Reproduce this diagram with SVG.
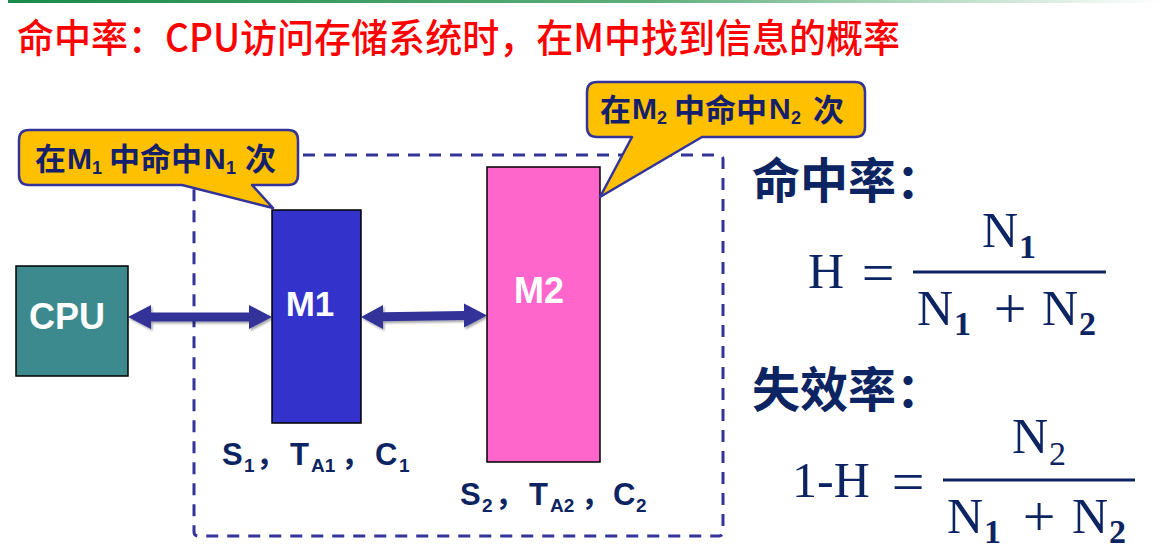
<svg xmlns="http://www.w3.org/2000/svg" width="1162" height="558" viewBox="0 0 1162 558">
<defs>
<linearGradient id="topline" x1="0" y1="0" x2="1" y2="0">
<stop offset="0" stop-color="#1B8A4C"/>
<stop offset="0.55" stop-color="#5DAE7A"/>
<stop offset="1" stop-color="#FFFFFF"/>
</linearGradient>
<filter id="shadow" x="-10%" y="-50%" width="120%" height="200%">
<feDropShadow dx="1.5" dy="2" stdDeviation="1.2" flood-color="#000" flood-opacity="0.35"/>
</filter>
<style>
.title{font-family:"Noto Sans CJK SC",sans-serif;font-size:39px;font-weight:500;fill:#FF0000;}
.box{stroke:#000;stroke-width:1.5;}
.boxtxt{font-family:"Liberation Sans",Arial,sans-serif;font-weight:bold;fill:#FFFFFF;text-anchor:middle;}
.callout{fill:#FFC000;stroke:#333399;stroke-width:2.5;stroke-linejoin:round;}
.ctxt{font-family:"Noto Sans CJK SC",sans-serif;font-weight:bold;font-size:31px;fill:#14206B;}
.clat{font-family:"Liberation Sans",Arial,sans-serif;font-weight:bold;font-size:30px;}
.csub{font-family:"Liberation Sans",Arial,sans-serif;font-weight:bold;font-size:18px;}
.lbl{font-family:"Liberation Sans",Arial,sans-serif;font-weight:bold;font-size:31px;fill:#0C2461;}
.lsub{font-size:19px;}
.lcm{font-family:"Noto Sans CJK SC",sans-serif;font-size:30px;}
.arrow{fill:#333399;filter:url(#shadow);}
.bound{fill:none;stroke:#333399;stroke-width:3;stroke-dasharray:12 9;}
.head{font-family:"Noto Sans CJK SC",sans-serif;font-weight:bold;font-size:48px;fill:#0C2461;}
.f{font-family:"Liberation Serif","Times New Roman",serif;font-size:50px;fill:#0C2461;}
.op{font-family:"Liberation Serif","Times New Roman",serif;font-size:58px;fill:#0C2461;text-anchor:middle;}
.fsub{font-family:"Liberation Serif","Times New Roman",serif;font-size:34px;fill:#0C2461;}
.fsubb{font-family:"Liberation Serif","Times New Roman",serif;font-size:34px;font-weight:bold;fill:#0C2461;}
.bar{fill:#0C2461;}
</style>
</defs>
<rect x="0" y="0" width="1162" height="558" fill="#FFFFFF"/>
<rect x="8" y="0" width="1154" height="3" fill="url(#topline)"/>
<text class="title" x="17" y="52" textLength="883" lengthAdjust="spacingAndGlyphs">命中率：CPU访问存储系统时，在M中找到信息的概率</text>

<g id="boundary">
<rect class="bound" x="194" y="155" width="529" height="381" rx="4"/>
</g>

<g id="connectors">
<polygon class="arrow" points="128,317 151,305 151,312.5 249,312.5 249,305 272,317 249,329 249,321.5 151,321.5 151,329"/>
<polygon class="arrow" points="361,317 383,305 383,312.3 464,311 464,303.5 487,315.5 464,327.5 464,320 383,321.3 383,329"/>
</g>

<g id="cpu">
<rect class="box" x="16" y="266" width="112" height="110" fill="#3C8A8E"/>
<text class="boxtxt" x="67" y="329" font-size="36">CPU</text>
</g>

<g id="m1">
<rect class="box" x="272" y="210" width="89" height="213" fill="#3333CC"/>
<text class="boxtxt" x="310" y="316" font-size="35">M1</text>
</g>

<g id="m2">
<rect class="box" x="487" y="167" width="113" height="295" fill="#FF66CC"/>
<text class="boxtxt" x="539" y="303" font-size="36">M2</text>
</g>

<g id="callout1">
<path class="callout" d="M29,130 H288 Q298,130 298,140 V175 Q298,185 288,185 H252 L273,208 L182,185 H29 Q19,185 19,175 V140 Q19,130 29,130 Z"/>
<text class="ctxt" y="170"><tspan x="35">在</tspan><tspan class="clat" x="67" y="169">M</tspan><tspan class="csub" x="92" y="174">1</tspan><tspan x="109" y="170">中命中</tspan><tspan class="clat" x="204" y="169">N</tspan><tspan class="csub" x="226" y="174">1</tspan><tspan x="245" y="170">次</tspan></text>
</g>

<g id="callout2">
<path class="callout" d="M597,82 H855 Q865,82 865,92 V127 Q865,137 855,137 H702 L600,197 L632,137 H597 Q587,137 587,127 V92 Q587,82 597,82 Z"/>
<text class="ctxt" y="121"><tspan x="600">在</tspan><tspan class="clat" x="632" y="119">M</tspan><tspan class="csub" x="657" y="124">2</tspan><tspan x="674" y="121">中命中</tspan><tspan class="clat" x="769" y="119">N</tspan><tspan class="csub" x="791" y="124">2</tspan><tspan x="813" y="121">次</tspan></text>
</g>

<g id="label1">
<text class="lbl" y="465"><tspan x="222">S</tspan><tspan class="lsub" x="244" y="472">1</tspan><tspan class="lcm" x="256" y="465">，</tspan><tspan x="290">T</tspan><tspan class="lsub" x="311" y="472">A1</tspan><tspan class="lcm" x="341" y="465">，</tspan><tspan x="375">C</tspan><tspan class="lsub" x="399" y="472">1</tspan></text>
</g>

<g id="label2">
<text class="lbl" y="505"><tspan x="460">S</tspan><tspan class="lsub" x="482" y="512">2</tspan><tspan class="lcm" x="495" y="505">，</tspan><tspan x="529">T</tspan><tspan class="lsub" x="550" y="512">A2</tspan><tspan class="lcm" x="581" y="505">，</tspan><tspan x="613">C</tspan><tspan class="lsub" x="636" y="512">2</tspan></text>
</g>

<g id="hitrate">
<text class="head" x="752" y="198">命中率：</text>
<text class="f" x="808" y="288">H</text>
<text class="op" x="878" y="292">=</text>
<rect class="bar" x="913" y="270.5" width="193" height="3"/>
<text class="f" x="982" y="247">N</text>
<text class="fsubb" x="1019" y="258">1</text>
<text class="f" x="917" y="325">N</text>
<text class="fsubb" x="954" y="335">1</text>
<text class="op" x="1010" y="328">+</text>
<text class="f" x="1042" y="325">N</text>
<text class="fsubb" x="1079" y="335">2</text>
</g>

<g id="missrate">
<text class="head" x="752" y="407">失效率：</text>
<text class="f" x="792" y="497">1-H</text>
<text class="op" x="908" y="501">=</text>
<rect class="bar" x="943" y="478.5" width="192" height="3"/>
<text class="f" x="1012" y="453">N</text>
<text class="fsub" x="1049" y="465">2</text>
<text class="f" x="947" y="533">N</text>
<text class="fsubb" x="984" y="543">1</text>
<text class="op" x="1039" y="536">+</text>
<text class="f" x="1072" y="533">N</text>
<text class="fsubb" x="1109" y="543">2</text>
</g>
</svg>
